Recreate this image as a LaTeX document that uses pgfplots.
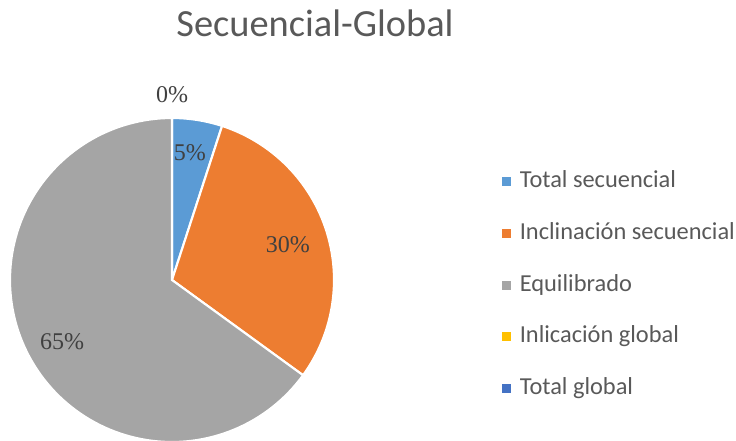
\documentclass[border=0pt]{standalone}
\usepackage{pgfplots}
\pgfplotsset{compat=1.18}
\usepackage{fontspec}
\setmainfont{Carlito}
\newfontfamily\serifnum{Liberation Serif}
\definecolor{cA}{HTML}{5B9BD5}
\definecolor{cB}{HTML}{ED7D31}
\definecolor{cC}{HTML}{A5A5A5}
\definecolor{cD}{HTML}{FFC000}
\definecolor{cE}{HTML}{4472C4}
\definecolor{txt}{HTML}{595959}
\definecolor{lbl}{HTML}{404040}
% values (%)
\def\vA{5}   % Total secuencial
\def\vB{30}  % Inclinacion secuencial
\def\vC{65}  % Equilibrado
\def\vD{0}   % Inlicacion global
\def\vE{0}   % Total global
\begin{document}
\begin{tikzpicture}
\useasboundingbox (0,0) rectangle (552pt,330pt);
\node[text=txt, font=\fontsize{28.8pt}{34pt}\selectfont] at (236.25pt,312.5pt) {Secuencial-Global};
\pgfmathsetmacro\aA{90}
\pgfmathsetmacro\aB{90-3.6*\vA}
\pgfmathsetmacro\aC{\aB-3.6*\vB}
\pgfmathsetmacro\aD{\aC-3.6*\vC}
\begin{axis}[
  at={(129pt,120pt)}, anchor=center,
  scale only axis, width=243pt, height=243pt,
  xmin=-1, xmax=1, ymin=-1, ymax=1,
  hide axis, clip=false,
  legend image code/.code={\fill[#1,draw=none] (0pt,-3.4pt) rectangle (6.8pt,3.4pt); \path (12.4pt,0pt);},
  legend cell align=left,
  legend style={draw=none, fill=none, at={(1.506,0.484)}, anchor=west,
    font=\fontsize{18.3pt}{22pt}\selectfont, text=txt,
    row sep=21.8pt,
    nodes={inner sep=0pt, text height=13pt, text depth=4pt}},
]
\addplot[fill=cA, draw=white, line width=1.6pt, domain=\aB:\aA, samples=20, variable=\t]
  ({cos(\t)},{sin(\t)}) -- (0,0) -- cycle;
\addlegendentry{Total secuencial}
\addplot[fill=cB, draw=white, line width=1.6pt, domain=\aC:\aB, samples=60, variable=\t]
  ({cos(\t)},{sin(\t)}) -- (0,0) -- cycle;
\addlegendentry{Inclinación secuencial}
\addplot[fill=cC, draw=white, line width=1.6pt, domain=\aD:\aC, samples=120, variable=\t]
  ({cos(\t)},{sin(\t)}) -- (0,0) -- cycle;
\addlegendentry{Equilibrado}
\addplot[fill=cD, draw=none] coordinates {(0,0)};
\addlegendentry{Inlicación global}
\addplot[fill=cE, draw=none] coordinates {(0,0)};
\addlegendentry{Total global}
\node[text=lbl, font=\serifnum\fontsize{18pt}{20pt}\selectfont] at (0,1.142) {0\%};
\node[text=lbl, font=\serifnum\fontsize{18pt}{20pt}\selectfont] at (0.111,0.784) {5\%};
\node[text=lbl, font=\serifnum\fontsize{18pt}{20pt}\selectfont] at (0.716,0.216) {30\%};
\node[text=lbl, font=\serifnum\fontsize{18pt}{20pt}\selectfont] at (-0.679,-0.383) {65\%};
\end{axis}
\end{tikzpicture}
\end{document}
